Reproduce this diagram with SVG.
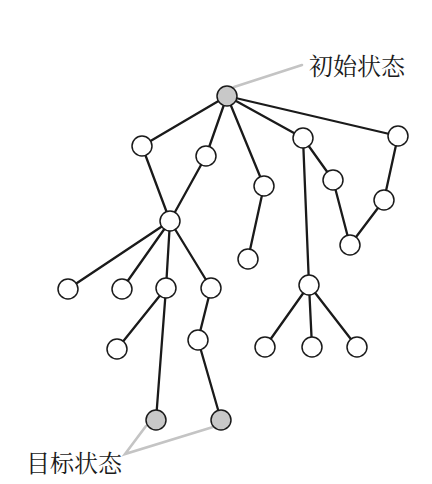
<svg xmlns="http://www.w3.org/2000/svg" width="432" height="484" viewBox="0 0 432 484">
<style>
.e{stroke:#1a1a1a;stroke-width:2.3;fill:none;stroke-linecap:round}
.g{stroke:#c4c4c4;stroke-width:2.6;fill:none;stroke-linecap:round}
circle{stroke:#1a1a1a;stroke-width:1.5;fill:#fff}
.s circle{fill:#c8c8c8}
text{font-family:"Noto Serif CJK SC","Noto Sans CJK SC",serif;font-size:24px;fill:#1a1a1a}
</style>
<rect width="432" height="484" fill="#fff"/>
<g id="connectors">
<line class="e" x1="227" y1="96" x2="142" y2="146"/>
<line class="e" x1="227" y1="96" x2="206" y2="156"/>
<line class="e" x1="227" y1="96" x2="264" y2="186"/>
<line class="e" x1="227" y1="96" x2="303" y2="138"/>
<line class="e" x1="227" y1="96" x2="398" y2="136"/>
<line class="e" x1="142" y1="146" x2="170" y2="221"/>
<line class="e" x1="206" y1="156" x2="170" y2="221"/>
<line class="e" x1="264" y1="186" x2="248" y2="259"/>
<line class="e" x1="303" y1="138" x2="333" y2="180"/>
<line class="e" x1="333" y1="180" x2="350" y2="245"/>
<line class="e" x1="398" y1="136" x2="384" y2="200"/>
<line class="e" x1="384" y1="200" x2="350" y2="245"/>
<line class="e" x1="303" y1="138" x2="309" y2="285"/>
<line class="e" x1="170" y1="221" x2="68" y2="289"/>
<line class="e" x1="170" y1="221" x2="122" y2="289"/>
<line class="e" x1="170" y1="221" x2="166" y2="288"/>
<line class="e" x1="170" y1="221" x2="211" y2="288"/>
<line class="e" x1="166" y1="288" x2="117" y2="349"/>
<line class="e" x1="166" y1="288" x2="156" y2="420"/>
<line class="e" x1="211" y1="288" x2="198" y2="340"/>
<line class="e" x1="198" y1="340" x2="221" y2="420"/>
<line class="e" x1="309" y1="285" x2="265" y2="347"/>
<line class="e" x1="309" y1="285" x2="312" y2="347"/>
<line class="e" x1="309" y1="285" x2="357" y2="347"/>
<line class="g" x1="234" y1="87" x2="302" y2="65"/>
<polyline class="g" points="146,426 125,454 213,427"/>
</g>
<g id="start" class="s"><circle cx="227" cy="96" r="10"/></g>
<g id="n1"><circle cx="142" cy="146" r="10"/></g>
<g id="n2"><circle cx="206" cy="156" r="10"/></g>
<g id="n3"><circle cx="264" cy="186" r="10"/></g>
<g id="n4"><circle cx="303" cy="138" r="10"/></g>
<g id="n5"><circle cx="398" cy="136" r="10"/></g>
<g id="n6"><circle cx="333" cy="180" r="10"/></g>
<g id="n7"><circle cx="384" cy="200" r="10"/></g>
<g id="n8"><circle cx="350" cy="245" r="10"/></g>
<g id="n9"><circle cx="170" cy="221" r="10"/></g>
<g id="n10"><circle cx="248" cy="259" r="10"/></g>
<g id="n11"><circle cx="68" cy="289" r="10"/></g>
<g id="n12"><circle cx="122" cy="289" r="10"/></g>
<g id="n13"><circle cx="166" cy="288" r="10"/></g>
<g id="n14"><circle cx="211" cy="288" r="10"/></g>
<g id="n15"><circle cx="117" cy="349" r="10"/></g>
<g id="n16"><circle cx="198" cy="340" r="10"/></g>
<g id="n17"><circle cx="309" cy="285" r="10"/></g>
<g id="n18"><circle cx="265" cy="347" r="10"/></g>
<g id="n19"><circle cx="312" cy="347" r="10"/></g>
<g id="n20"><circle cx="357" cy="347" r="10"/></g>
<g id="goal1" class="s"><circle cx="156" cy="420" r="10"/></g>
<g id="goal2" class="s"><circle cx="221" cy="420" r="10"/></g>
<g id="label-start"><text x="309" y="75">初始状态</text></g>
<g id="label-goal"><text x="26" y="472">目标状态</text></g>
</svg>
